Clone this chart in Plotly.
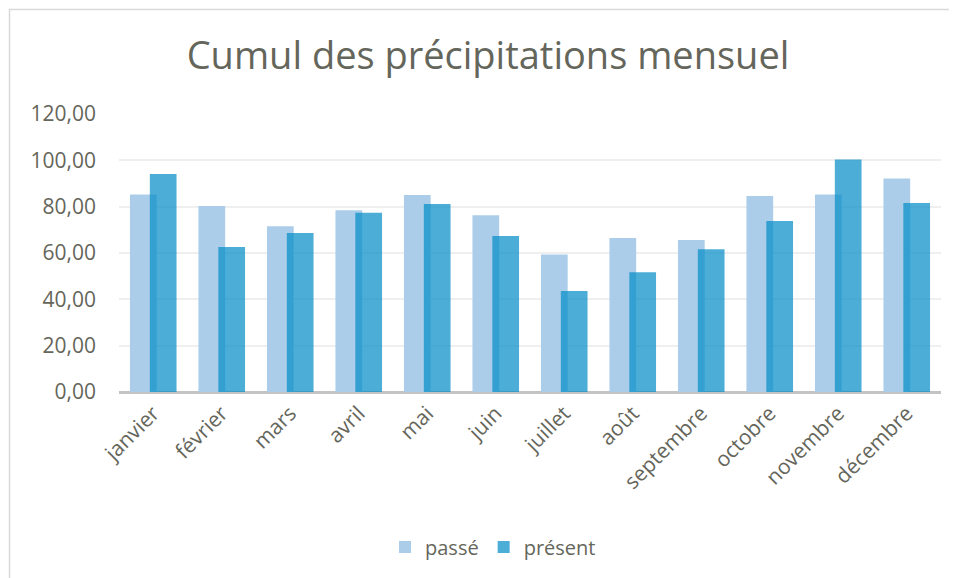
import plotly.graph_objects as go

months = ["janvier", "février", "mars", "avril", "mai", "juin", "juillet",
          "août", "septembre", "octobre", "novembre", "décembre"]
passe = [85.3, 80.3, 71.6, 78.4, 85.0, 76.3, 59.3, 66.5, 65.6, 84.6, 85.3, 92.2]
present = [94.1, 62.6, 68.6, 77.4, 81.1, 67.3, 43.6, 51.7, 61.6, 73.8, 100.4, 81.6]
y_ticks = [0, 20, 40, 60, 80, 100, 120]

# page has an 8px body margin; figure sized to fill the rest of the window
OFF = 8
W, H = 957 - OFF, 578 - OFF
L, R, T = 119 - OFF, 16, 114 - OFF
B = H - (392 - OFF)
pw, ph = W - L - R, H - T - B

font_family = "Open Sans, Liberation Sans, sans-serif"
text_col = "#65665b"

fig = go.Figure()
fig.add_trace(go.Bar(
    x=months, y=passe, name="passé",
    marker=dict(color="#abcde9", line=dict(width=0)),
    width=0.39, offset=-0.34,
))
fig.add_trace(go.Bar(
    x=months, y=present, name="présent",
    marker=dict(color="rgba(3,139,198,0.71)", line=dict(width=0)),
    width=0.39, offset=-0.05,
))

# outer chart frame (left and top edges visible)
fx0, fy0 = 9.5 - OFF, 9.5 - OFF
fig.add_shape(type="rect", xref="paper", yref="paper",
              x0=(fx0 - L) / pw, x1=(W + 30 - L) / pw,
              y0=-(H + 30 - (H - B)) / ph, y1=((H - B) - fy0) / ph,
              line=dict(color="#d9d9d9", width=1.5), layer="below")

fig.update_layout(
    width=W, height=H,
    margin=dict(l=L, r=R, t=T, b=B),
    paper_bgcolor="white", plot_bgcolor="white",
    barmode="overlay",
    separators=", ",
    title=dict(text="Cumul des précipitations mensuel",
               font=dict(family=font_family, size=38, color=text_col),
               x=(488 - OFF) / W, xanchor="center",
               y=1 - (56 - OFF) / H, yanchor="middle"),
    font=dict(family=font_family, color=text_col),
    showlegend=True,
    legend=dict(orientation="h", x=(493 - OFF - L) / pw, xanchor="center",
                y=-(547 - 392) / ph, yanchor="middle",
                font=dict(size=20, color=text_col), itemwidth=30,
                traceorder="normal"),
    xaxis=dict(
        type="category", tickangle=-45,
        tickfont=dict(size=21, color=text_col),
        showgrid=False, showline=False, ticks="",
        range=[-0.5, 11.5], ticklabelstandoff=4,
    ),
    yaxis=dict(
        range=[0, 120], tickvals=y_ticks, tickformat=".2f",
        tickfont=dict(size=21, color=text_col),
        showgrid=True, gridcolor="#efefef", gridwidth=1.5,
        zeroline=True, zerolinecolor="#c4c4c4", zerolinewidth=3,
        showline=False, ticks="", ticklabelstandoff=22,
    ),
)

fig.write_html("out.html")
